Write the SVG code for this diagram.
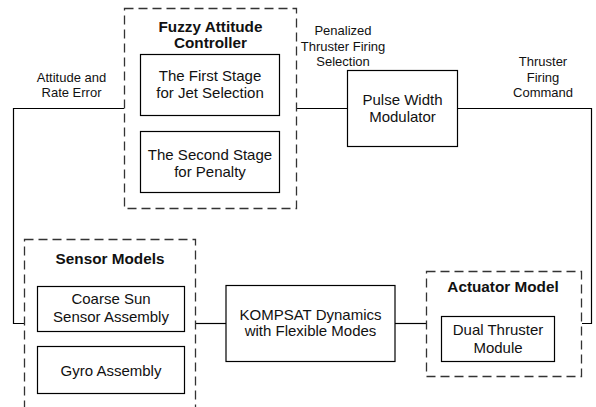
<svg xmlns="http://www.w3.org/2000/svg" width="596" height="407" viewBox="0 0 596 407">
<style>
.box{fill:#fff;stroke:#000;stroke-width:1.2}
.grp{fill:none;stroke:#333;stroke-width:1.3;stroke-dasharray:9,5}
.t{font-family:"Liberation Sans",Arial,sans-serif;font-size:15px;fill:#111;text-anchor:middle}
.b{font-family:"Liberation Sans",Arial,sans-serif;font-size:15.3px;font-weight:bold;fill:#111;text-anchor:middle}
.l{font-family:"Liberation Sans",Arial,sans-serif;font-size:13px;fill:#111;text-anchor:middle}
.c{fill:none;stroke:#000;stroke-width:1.2}
</style>
<rect width="596" height="407" fill="#fff"/>
<g id="connectors">
<polyline class="c" points="124,108.5 13.5,108.5 13.5,323.5 24,323.5"/>
<line class="c" x1="296" y1="108.5" x2="347.5" y2="108.5"/>
<polyline class="c" points="457.5,108.5 591.5,108.5 591.5,323.5 582,323.5"/>
<line class="c" x1="196" y1="323.5" x2="226" y2="323.5"/>
<line class="c" x1="395" y1="323.5" x2="426" y2="323.5"/>
</g>
<g id="labels">
<text class="l" x="71.5" y="82">Attitude and</text>
<text class="l" x="71.5" y="97">Rate Error</text>
<text class="l" x="343" y="35">Penalized</text>
<text class="l" x="343" y="50.5">Thruster Firing</text>
<text class="l" x="343" y="65.5">Selection</text>
<text class="l" x="543" y="65.5">Thruster</text>
<text class="l" x="543" y="81.5">Firing</text>
<text class="l" x="543" y="96.5">Command</text>
</g>
<g id="fuzzy-controller">
<rect class="grp" x="124.5" y="8.5" width="172" height="200"/>
<text class="b" x="210.5" y="32">Fuzzy Attitude</text>
<text class="b" x="210.5" y="48">Controller</text>
</g>
<g id="first-stage">
<rect class="box" x="140.5" y="54.5" width="139" height="61"/>
<text class="t" x="210" y="80.5">The First Stage</text>
<text class="t" x="210" y="97.5">for Jet Selection</text>
</g>
<g id="second-stage">
<rect class="box" x="140.5" y="131.5" width="139" height="61"/>
<text class="t" x="210" y="160">The Second Stage</text>
<text class="t" x="210" y="177">for Penalty</text>
</g>
<g id="pwm">
<rect class="box" x="347.5" y="70.5" width="110" height="76"/>
<text class="t" x="402.5" y="104.5">Pulse Width</text>
<text class="t" x="402.5" y="121.5">Modulator</text>
</g>
<g id="sensor-models">
<rect class="grp" x="24.5" y="239.5" width="171" height="180"/>
<text class="b" x="110" y="264">Sensor Models</text>
</g>
<g id="coarse-sun">
<rect class="box" x="37.5" y="286.5" width="147" height="45"/>
<text class="t" x="111" y="304">Coarse Sun</text>
<text class="t" x="111" y="321.5">Sensor Assembly</text>
</g>
<g id="gyro">
<rect class="box" x="37.5" y="346.5" width="147" height="47"/>
<text class="t" x="111" y="376">Gyro Assembly</text>
</g>
<g id="kompsat">
<rect class="box" x="226" y="285.5" width="169" height="76"/>
<text class="t" x="310.5" y="319.5">KOMPSAT Dynamics</text>
<text class="t" x="310.5" y="335.5">with Flexible Modes</text>
</g>
<g id="actuator-model">
<rect class="grp" x="426.5" y="271.5" width="155" height="105"/>
<text class="b" x="503" y="291.5">Actuator Model</text>
</g>
<g id="dual-thruster">
<rect class="box" x="441.5" y="316.5" width="113" height="45"/>
<text class="t" x="498" y="335">Dual Thruster</text>
<text class="t" x="498" y="352.5">Module</text>
</g>
</svg>
